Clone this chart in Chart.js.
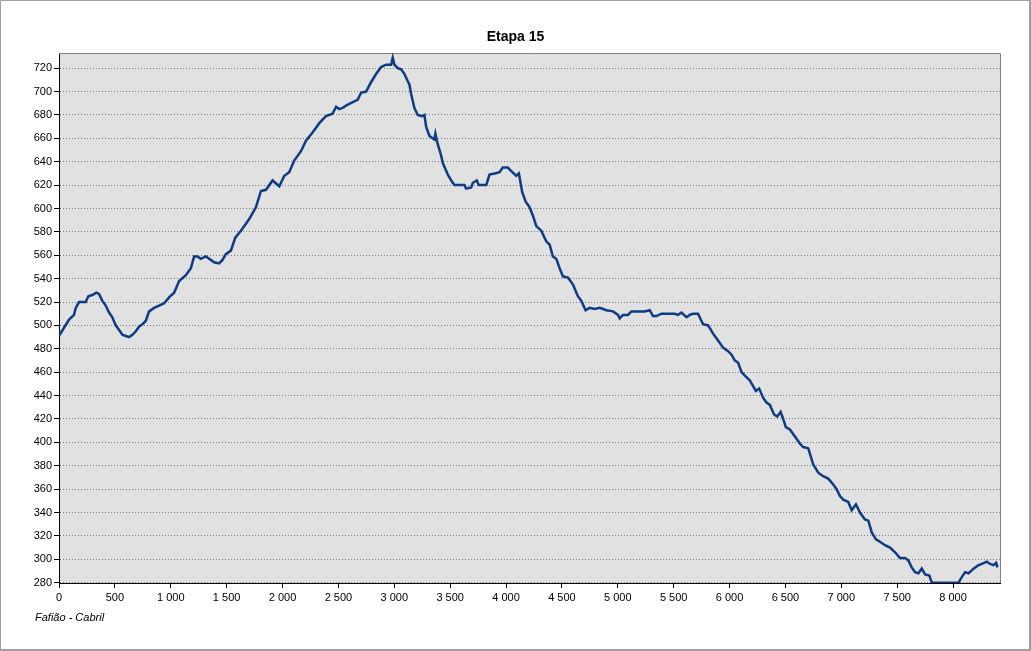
<!DOCTYPE html>
<html>
<head>
<meta charset="utf-8">
<script src="https://cdn.jsdelivr.net/npm/chart.js@4/dist/chart.umd.min.js"></script>
<style>
  html, body { margin: 0; padding: 0; background: #ffffff; }
  #wrap { width: 1031px; height: 651px; }
</style>
</head>
<body>
<div id="wrap"><canvas id="c" width="1031" height="651"></canvas></div>
<script>
const chartTitle = "Etapa 15";
const caption = "Fafião - Cabril";

const distances = [
  0,45,90,134,150,179,239,262,298,334,
  358,388,418,448,477,508,538,567,598,627,
  657,687,717,746,777,806,851,896,941,985,
  1030,1075,1135,1180,1209,1239,1269,1314,1344,1389,
  1433,1463,1493,1538,1577,1628,1702,1762,1807,1852,
  1911,1971,2016,2060,2105,2165,2210,2269,2329,2389,
  2448,2479,2508,2538,2568,2628,2672,2703,2748,2792,
  2837,2882,2927,2972,2986,3001,3031,3061,3091,3120,
  3136,3151,3180,3210,3249,3270,3285,3315,3359,3368,
  3389,3420,3434,3479,3523,3539,3628,3643,3688,3703,
  3738,3756,3823,3852,3897,3942,3971,4016,4047,4091,
  4115,4145,4175,4211,4240,4271,4315,4360,4390,4419,
  4450,4479,4509,4554,4599,4643,4674,4712,4748,4793,
  4838,4898,4957,5002,5017,5047,5091,5122,5181,5241,
  5286,5315,5346,5390,5435,5510,5539,5570,5614,5644,
  5674,5718,5763,5808,5853,5868,5913,5942,5987,6018,
  6047,6077,6107,6137,6181,6211,6235,6265,6301,6331,
  6361,6397,6426,6457,6480,6504,6540,6585,6629,6659,
  6704,6749,6794,6838,6883,6928,6958,6988,7017,7062,
  7093,7131,7167,7212,7242,7272,7310,7346,7391,7436,
  7481,7525,7570,7600,7630,7660,7690,7720,7750,7788,
  7810,8049,8079,8108,8138,8183,8228,8258,8302,8332,
  8362,8385,8397
];

const elevations = [
  491,498,505,509,515,520,520,525,526,528,
  527,521,517,511,507,500,496,492,491,490,
  492,495,499,501,504,512,515,517,519,524,
  528,538,543,549,559,559,557,559,557,554,
  553,556,561,564,575,581,591,601,615,616,
  624,619,628,631,641,649,658,665,673,679,
  681,687,685,686,688,691,693,699,700,708,
  715,721,723,723,729,723,720,719,715,709,
  706,698,686,680,679,680,670,662,659,664,
  655,645,639,629,622,620,620,617,618,622,
  624,620,620,629,630,631,635,635,632,628,
  630,614,606,601,594,585,581,572,569,559,
  557,549,542,541,535,525,521,513,515,514,
  515,513,512,509,506,509,509,512,512,512,
  513,508,508,510,510,510,509,511,507,509,
  510,510,501,500,493,491,485,481,478,475,
  470,468,460,457,453,448,444,446,438,434,
  432,424,422,426,420,413,411,405,399,396,
  395,381,374,371,369,364,360,354,351,349,
  342,347,340,334,333,323,317,315,312,310,
  306,301,301,299,293,289,288,292,287,286,
  280,280,285,289,288,292,295,296,298,296,
  295,297,293
];

const xTicks = [0,500,1000,1500,2000,2500,3000,3500,4000,4500,5000,5500,6000,6500,7000,7500,8000];
const yTicks = [280,300,320,340,360,380,400,420,440,460,480,500,520,540,560,580,600,620,640,660,680,700,720];

const points = distances.map((d, i) => ({ x: d, y: elevations[i] }));

const FONT = '"Liberation Sans", Arial, sans-serif';

const decor = {
  id: 'decor',
  beforeDraw(chart) {
    const ctx = chart.ctx;
    const a = chart.chartArea;
    ctx.save();
    ctx.fillStyle = '#ffffff';
    ctx.fillRect(0, 0, chart.width, chart.height);
    ctx.fillStyle = '#e1e1e1';
    ctx.fillRect(a.left, a.top, a.right - a.left, a.bottom - a.top);
    // outer frame
    ctx.strokeStyle = '#a0a0a0';
    ctx.lineWidth = 1;
    ctx.beginPath();
    ctx.moveTo(0.5, 650); ctx.lineTo(0.5, 0.5); ctx.lineTo(1030, 0.5);
    ctx.stroke();
    ctx.lineWidth = 2;
    ctx.beginPath();
    ctx.moveTo(1030, 0); ctx.lineTo(1030, 650); ctx.lineTo(0, 650);
    ctx.stroke();
    ctx.restore();
  },
  beforeDatasetsDraw(chart) {
    const ctx = chart.ctx;
    const a = chart.chartArea;
    ctx.save();
    ctx.strokeStyle = '#808080';
    ctx.lineWidth = 1;
    ctx.beginPath();
    ctx.moveTo(a.left, Math.round(a.top) + 0.5);
    ctx.lineTo(Math.round(a.right) + 0.5, Math.round(a.top) + 0.5);
    ctx.lineTo(Math.round(a.right) + 0.5, a.bottom);
    ctx.stroke();
    ctx.restore();
  },
  afterDraw(chart) {
    const ctx = chart.ctx;
    ctx.save();
    ctx.fillStyle = '#000000';
    ctx.font = 'italic 11px ' + FONT;
    ctx.textAlign = 'left';
    ctx.textBaseline = 'middle';
    ctx.fillText(caption, 35, 618);
    ctx.restore();
  }
};

new Chart(document.getElementById('c'), {
  type: 'line',
  data: {
    datasets: [{
      label: chartTitle,
      data: points,
      borderColor: '#0d3b84',
      borderWidth: 2.5,
      pointRadius: 0,
      pointHoverRadius: 0,
      fill: false,
      tension: 0
    }]
  },
  options: {
    responsive: false,
    animation: false,
    devicePixelRatio: 1,
    layout: { padding: { left: 0, right: 0, top: 0, bottom: 0 } },
    plugins: {
      legend: { display: false },
      tooltip: { enabled: false },
      title: {
        display: true,
        text: chartTitle,
        color: '#000000',
        font: { family: FONT, size: 14, weight: 'bold', lineHeight: 1.2 },
        padding: { top: 28.6, bottom: 7.6 }
      }
    },
    scales: {
      x: {
        type: 'linear',
        min: 0,
        max: 8420,
        afterBuildTicks: (axis) => { axis.ticks = xTicks.map(v => ({ value: v })); },
        afterFit: (axis) => { axis.height = 68; },
        grid: {
          drawOnChartArea: false,
          drawTicks: true,
          tickLength: 5,
          tickColor: '#000000',
          tickWidth: 1
        },
        border: { display: true, color: '#000000', width: 1 },
        ticks: {
          color: '#000000',
          padding: 3,
          maxRotation: 0,
          autoSkip: false,
          font: { family: FONT, size: 11 },
          callback: (v) => String(v).replace(/\B(?=(\d{3})+(?!\d))/g, ' ')
        }
      },
      y: {
        type: 'linear',
        min: 279.7,
        max: 733,
        afterBuildTicks: (axis) => { axis.ticks = yTicks.map(v => ({ value: v })); },
        afterFit: (axis) => { axis.width = 59; },
        grid: {
          drawOnChartArea: true,
          drawTicks: true,
          tickLength: 5,
          color: '#7a7a7a',
          lineWidth: 1,
          tickColor: '#000000',
          tickWidth: 1,
          tickBorderDash: []
        },
        border: { display: true, color: '#000000', width: 1, dash: [1, 2] },
        ticks: {
          color: '#000000',
          padding: 2,
          autoSkip: false,
          font: { family: FONT, size: 11 }
        }
      },
      yRight: {
        type: 'linear',
        position: 'right',
        display: true,
        min: 0,
        max: 1,
        afterFit: (axis) => { axis.width = 31; },
        grid: { display: false, drawTicks: false },
        border: { display: false },
        ticks: { display: false }
      }
    }
  },
  plugins: [decor]
});
</script>
</body>
</html>
